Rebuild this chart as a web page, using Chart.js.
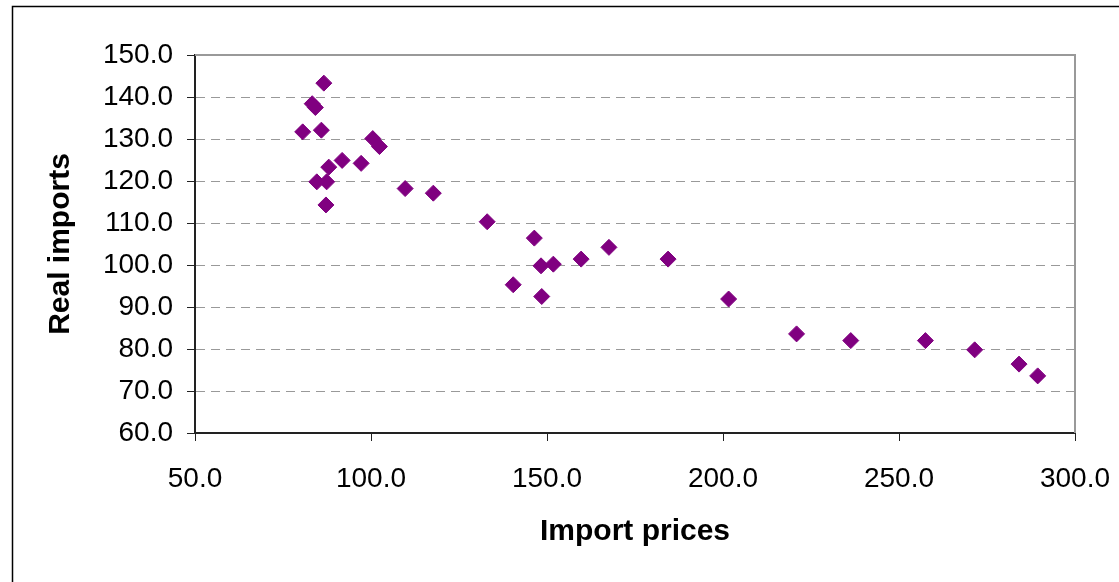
<!DOCTYPE html>
<html>
<head>
<meta charset="utf-8">
<script src="https://cdn.jsdelivr.net/npm/chart.js@4/dist/chart.umd.min.js"></script>
<style>
  html, body { margin: 0; padding: 0; background: #fff; }
  canvas { display: block; }
</style>
</head>
<body>
<canvas id="scatterChart" width="1119" height="582"></canvas>
<script>
// import price index vs. real import volume
const importPrices = [
    80.6, 83.3, 84.2, 86.6, 85.9, 100.5, 102.4, 88.0, 91.8, 97.2,
    84.6, 87.4, 87.2, 109.7, 117.7, 133.0, 146.4, 140.4, 148.3, 151.8,
    148.5, 159.7, 167.6, 184.4, 201.6, 220.9, 236.3, 257.5, 271.5, 284.1,
    289.4
];
const realImports = [
    131.7, 138.4, 137.5, 143.3, 132.1, 130.1, 128.2, 123.3, 124.9, 124.2,
    119.8, 119.8, 114.3, 118.2, 117.1, 110.3, 106.4, 95.3, 99.8, 100.2,
    92.5, 101.4, 104.2, 101.4, 91.9, 83.6, 82.0, 82.0, 79.8, 76.4,
    73.6
];
const xTicks = [50, 100, 150, 200, 250, 300];
const yTicks = [60, 70, 80, 90, 100, 110, 120, 130, 140, 150];

const fontFamily = '"Liberation Sans", Arial, sans-serif';

// outer frame plus the grey top/right edge of the plot area
const frames = {
    id: 'frames',
    beforeDatasetsDraw(chart) {
        const { ctx, chartArea: a } = chart;
        ctx.save();
        ctx.strokeStyle = '#999';
        ctx.lineWidth = 2;
        ctx.beginPath();
        ctx.moveTo(a.left, a.top);
        ctx.lineTo(a.right, a.top);
        ctx.lineTo(a.right, a.bottom);
        ctx.stroke();
        ctx.restore();
    },
    afterDraw(chart) {
        const ctx = chart.ctx;
        ctx.save();
        ctx.strokeStyle = '#000';
        ctx.lineWidth = 1.5;
        ctx.beginPath();
        ctx.moveTo(12.5, chart.height + 5);
        ctx.lineTo(12.5, 6.5);
        ctx.lineTo(chart.width + 5, 6.5);
        ctx.stroke();
        ctx.restore();
    }
};

const points = importPrices.map((x, i) => ({ x: x, y: realImports[i] }));

new Chart(document.getElementById('scatterChart').getContext('2d'), {
    type: 'scatter',
    data: {
        datasets: [{
            label: 'Real imports',
            data: points,
            pointStyle: 'rectRot',
            pointRadius: 8,
            pointHoverRadius: 8,
            backgroundColor: '#800080',
            borderColor: '#800080',
            borderWidth: 1
        }]
    },
    options: {
        responsive: false,
        animation: false,
        layout: { padding: { top: 55, right: 44, bottom: 0, left: 0 } },
        plugins: {
            legend: { display: false },
            tooltip: { enabled: false }
        },
        scales: {
            x: {
                type: 'linear',
                min: 50,
                max: 300,
                afterBuildTicks: (scale) => { scale.ticks = xTicks.map(v => ({ value: v })); },
                afterFit: (scale) => {
                    scale.height = 149;
                    // let the end labels hang past the plot edge
                    scale.paddingLeft = 0;
                    scale.paddingRight = 0;
                },
                ticks: {
                    color: '#000',
                    padding: 21,
                    font: { family: fontFamily, size: 28 },
                    callback: (v) => Number(v).toFixed(1)
                },
                grid: {
                    drawOnChartArea: false,
                    tickLength: 8,
                    tickColor: '#222'
                },
                border: { color: '#222', width: 2 },
                title: {
                    display: true,
                    text: 'Import prices',
                    color: '#000',
                    padding: { top: 0, bottom: 32 },
                    font: { family: fontFamily, size: 30, weight: 'bold' }
                }
            },
            y: {
                type: 'linear',
                min: 60,
                max: 150,
                afterBuildTicks: (scale) => { scale.ticks = yTicks.map(v => ({ value: v })); },
                afterFit: (scale) => { scale.width = 195; },
                ticks: {
                    color: '#000',
                    padding: 14,
                    font: { family: fontFamily, size: 28 },
                    callback: (v) => Number(v).toFixed(1)
                },
                grid: {
                    color: '#999',
                    lineWidth: 1,
                    tickLength: 8,
                    tickColor: '#222'
                },
                border: { color: '#222', width: 2, dash: [9, 6] },
                title: {
                    display: true,
                    text: 'Real imports',
                    color: '#000',
                    padding: { top: 43, bottom: 0 },
                    font: { family: fontFamily, size: 30, weight: 'bold' }
                }
            }
        }
    },
    plugins: [frames]
});
</script>
</body>
</html>
